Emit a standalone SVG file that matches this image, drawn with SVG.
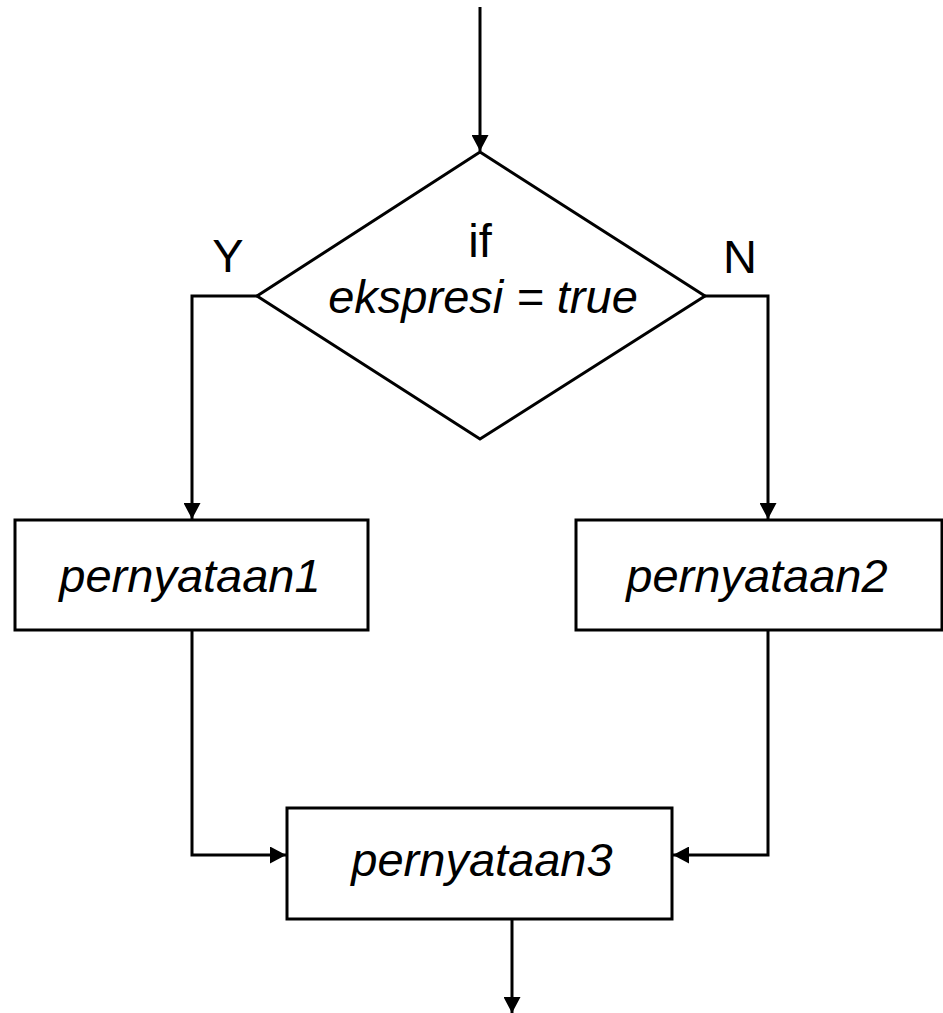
<svg xmlns="http://www.w3.org/2000/svg" width="943" height="1013" viewBox="0 0 943 1013">
  <style>
    .shape { fill: #ffffff; stroke: #000000; stroke-width: 3; }
    .wire { fill: none; stroke: #000000; stroke-width: 3; }
    .lbl { font-family: "Liberation Sans", Arial, sans-serif; font-size: 47px; fill: #000000; text-anchor: middle; }
    .it { font-style: italic; }
  </style>
  <defs>
    <marker id="arrow" viewBox="0 0 16 17" refX="16" refY="8.5" markerWidth="16" markerHeight="17" markerUnits="userSpaceOnUse" orient="auto">
      <path d="M0,0 L16,8.5 L0,17 Z" fill="#000000"/>
    </marker>
  </defs>

  <g id="connectors">
    <path class="wire" d="M480,7 V151" marker-end="url(#arrow)"/>
    <path class="wire" d="M257,296 H192 V519" marker-end="url(#arrow)"/>
    <path class="wire" d="M704,296 H768 V519" marker-end="url(#arrow)"/>
    <path class="wire" d="M192,630 V855 H286" marker-end="url(#arrow)"/>
    <path class="wire" d="M768,630 V855 H673" marker-end="url(#arrow)"/>
    <path class="wire" d="M512,919 V1013" marker-end="url(#arrow)"/>
  </g>

  <g id="decision">
    <polygon class="shape" points="480,152 705,296 480,439 257,296"/>
    <text class="lbl" x="480" y="257">if</text>
    <text class="lbl it" x="483" y="313">ekspresi = true</text>
  </g>

  <g id="label-yes">
    <text class="lbl" x="228" y="272">Y</text>
  </g>
  <g id="label-no">
    <text class="lbl" x="740" y="273">N</text>
  </g>

  <g id="statement1">
    <rect class="shape" x="15" y="520" width="353" height="110"/>
    <text class="lbl it" x="190" y="592">pernyataan1</text>
  </g>

  <g id="statement2">
    <rect class="shape" x="576" y="520" width="366" height="110"/>
    <text class="lbl it" x="757" y="592">pernyataan2</text>
  </g>

  <g id="statement3">
    <rect class="shape" x="287" y="808" width="385" height="111"/>
    <text class="lbl it" x="482" y="876">pernyataan3</text>
  </g>
</svg>
